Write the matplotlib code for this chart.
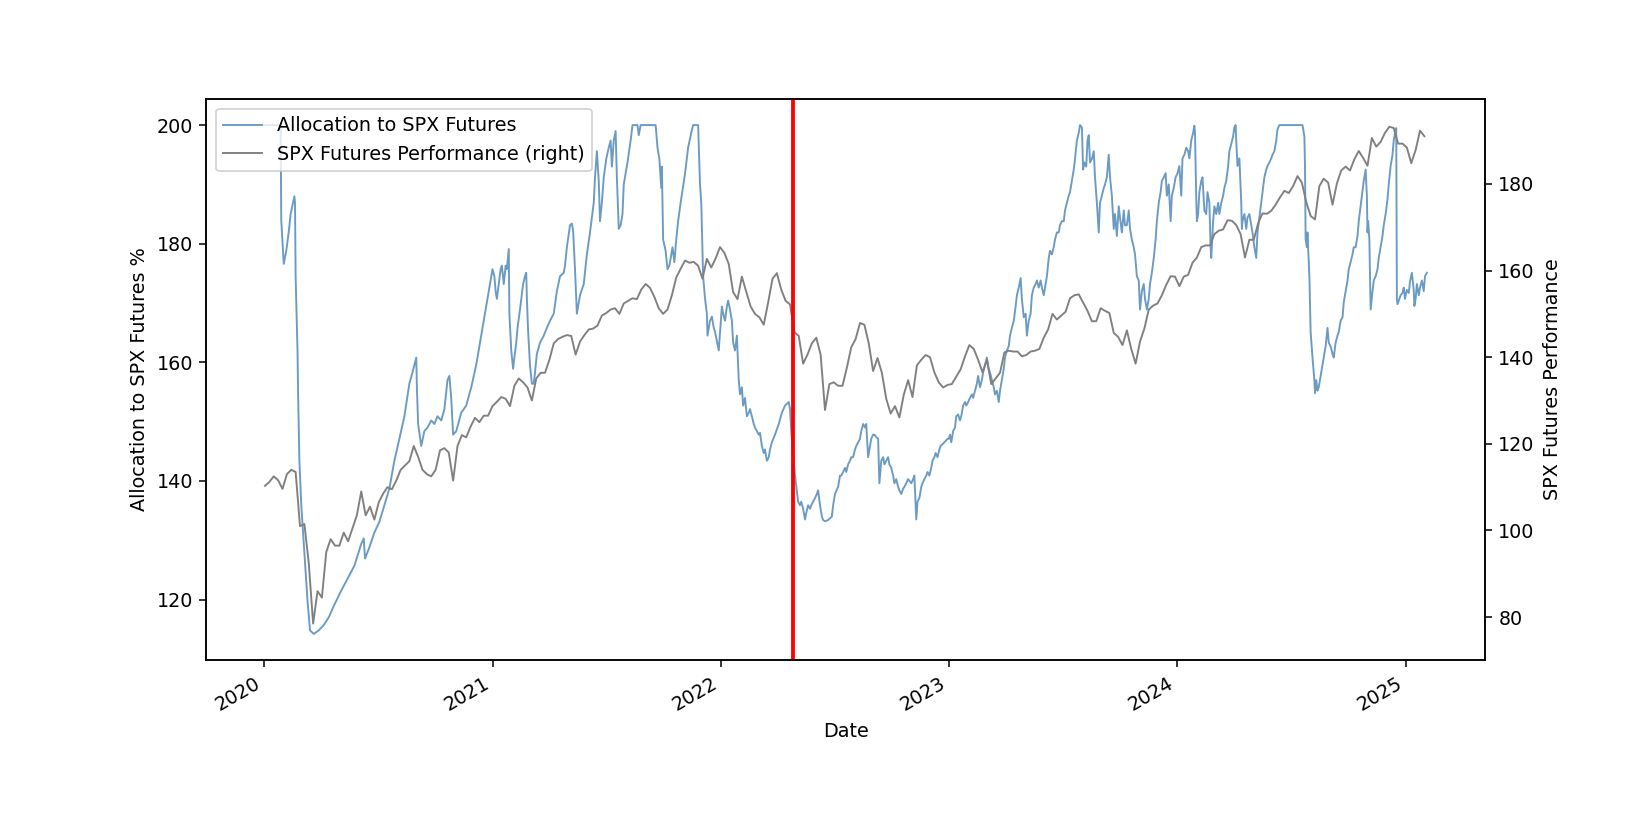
import matplotlib
matplotlib.use("Agg")
import matplotlib.pyplot as plt
import pandas as pd

# Allocation to SPX futures (%), (date, value)
alloc_2020 = [
    ("2020-01-02", 200.0), ("2020-01-28", 200.0), ("2020-01-29", 184.0), ("2020-02-02", 176.6),
    ("2020-02-06", 178.8), ("2020-02-10", 182.0), ("2020-02-13", 185.0), ("2020-02-19", 188.0),
    ("2020-02-20", 186.9), ("2020-02-21", 174.5), ("2020-02-24", 162.0), ("2020-02-25", 154.6),
    ("2020-02-27", 143.4), ("2020-03-01", 136.0), ("2020-03-06", 127.9), ("2020-03-11", 119.8),
    ("2020-03-15", 114.8), ("2020-03-21", 114.2), ("2020-03-29", 114.8), ("2020-04-06", 115.7),
    ("2020-04-14", 117.0), ("2020-04-22", 118.9), ("2020-05-03", 121.3), ("2020-05-14", 123.5),
    ("2020-05-25", 125.7), ("2020-06-05", 129.4), ("2020-06-09", 130.3), ("2020-06-11", 126.9),
    ("2020-06-18", 128.8), ("2020-06-26", 131.3), ("2020-07-04", 133.1), ("2020-07-12", 135.9),
    ("2020-07-20", 138.7), ("2020-07-28", 143.4), ("2020-08-05", 147.1), ("2020-08-13", 150.9),
    ("2020-08-21", 156.4), ("2020-08-26", 158.3), ("2020-09-01", 160.8), ("2020-09-02", 155.8),
    ("2020-09-04", 149.6), ("2020-09-09", 145.9), ("2020-09-14", 148.4), ("2020-09-19", 149.0),
    ("2020-09-25", 150.2), ("2020-09-30", 149.6), ("2020-10-05", 150.9), ("2020-10-11", 150.2),
    ("2020-10-16", 152.1), ("2020-10-21", 157.0), ("2020-10-24", 157.7), ("2020-10-27", 153.9),
    ("2020-10-30", 147.8), ("2020-11-04", 148.4), ("2020-11-12", 151.5), ("2020-11-20", 152.7),
    ("2020-11-28", 155.8), ("2020-12-06", 159.6), ("2020-12-13", 163.9), ("2020-12-21", 168.9),
    ("2020-12-27", 172.6),
]
alloc_2021 = [
    ("2021-01-01", 175.7), ("2021-01-04", 174.5), ("2021-01-06", 172.0), ("2021-01-08", 170.7),
    ("2021-01-11", 173.2), ("2021-01-14", 175.7), ("2021-01-16", 176.3), ("2021-01-19", 173.2),
    ("2021-01-22", 176.3), ("2021-01-24", 175.7), ("2021-01-27", 179.1), ("2021-01-28", 168.2),
    ("2021-01-31", 162.0), ("2021-02-03", 158.9), ("2021-02-05", 160.8), ("2021-02-08", 163.3),
    ("2021-02-10", 165.8), ("2021-02-14", 168.9), ("2021-02-19", 173.2), ("2021-02-22", 174.5),
    ("2021-02-24", 175.1), ("2021-02-25", 170.8), ("2021-02-27", 165.2), ("2021-03-02", 159.5),
    ("2021-03-05", 156.4), ("2021-03-08", 156.4), ("2021-03-10", 158.3), ("2021-03-13", 161.4),
    ("2021-03-18", 163.3), ("2021-03-24", 164.5), ("2021-03-29", 165.8), ("2021-04-03", 167.0),
    ("2021-04-09", 168.2), ("2021-04-14", 172.0), ("2021-04-19", 174.5), ("2021-04-25", 175.1),
    ("2021-04-27", 176.3), ("2021-04-30", 179.4), ("2021-05-05", 183.1), ("2021-05-08", 183.4),
    ("2021-05-10", 182.2), ("2021-05-13", 175.7), ("2021-05-16", 168.2), ("2021-05-18", 169.4),
    ("2021-05-21", 171.3), ("2021-05-27", 173.2), ("2021-06-01", 178.2), ("2021-06-06", 181.9),
    ("2021-06-12", 186.9), ("2021-06-14", 191.2), ("2021-06-17", 195.6), ("2021-06-20", 190.6),
    ("2021-06-22", 183.8), ("2021-06-25", 186.9), ("2021-06-28", 191.2), ("2021-07-02", 194.3),
    ("2021-07-06", 196.2), ("2021-07-09", 197.4), ("2021-07-11", 193.0), ("2021-07-14", 197.4),
    ("2021-07-17", 199.0), ("2021-07-19", 191.2), ("2021-07-22", 182.5), ("2021-07-25", 183.1),
    ("2021-07-28", 185.0), ("2021-07-30", 190.0), ("2021-08-05", 193.7), ("2021-08-10", 197.4),
    ("2021-08-13", 200.0), ("2021-08-21", 200.0), ("2021-08-23", 198.3), ("2021-08-26", 200.0),
    ("2021-09-19", 200.0), ("2021-09-22", 196.2), ("2021-09-25", 194.3), ("2021-09-28", 189.4),
    ("2021-09-29", 193.0), ("2021-10-01", 180.7), ("2021-10-05", 178.8), ("2021-10-08", 175.7),
    ("2021-10-11", 176.3), ("2021-10-14", 178.2), ("2021-10-16", 179.4), ("2021-10-19", 176.9),
    ("2021-10-22", 180.7), ("2021-10-25", 183.8), ("2021-10-29", 186.9), ("2021-11-05", 191.8),
    ("2021-11-10", 196.2), ("2021-11-15", 198.7), ("2021-11-18", 200.0), ("2021-11-26", 200.0),
    ("2021-11-29", 190.0), ("2021-12-01", 186.9), ("2021-12-04", 174.5), ("2021-12-07", 170.8),
    ("2021-12-10", 168.2), ("2021-12-11", 164.5), ("2021-12-15", 167.0), ("2021-12-18", 167.7),
    ("2021-12-21", 165.8), ("2021-12-23", 165.2), ("2021-12-29", 162.0),
]
alloc_2022 = [
    ("2022-01-01", 166.5), ("2022-01-03", 169.4), ("2022-01-05", 168.2), ("2022-01-08", 167.0),
    ("2022-01-11", 169.4), ("2022-01-13", 170.4), ("2022-01-16", 168.9), ("2022-01-19", 167.0),
    ("2022-01-21", 163.3), ("2022-01-24", 162.0), ("2022-01-27", 164.5), ("2022-01-28", 162.0),
    ("2022-01-30", 157.0), ("2022-02-01", 154.6), ("2022-02-04", 155.8), ("2022-02-06", 152.7),
    ("2022-02-09", 154.0), ("2022-02-12", 150.9), ("2022-02-15", 151.5), ("2022-02-17", 152.1),
    ("2022-02-20", 150.9), ("2022-02-23", 149.6), ("2022-02-25", 149.0), ("2022-02-28", 148.4),
    ("2022-03-03", 147.8), ("2022-03-05", 148.1), ("2022-03-08", 145.9), ("2022-03-11", 144.7),
    ("2022-03-13", 145.3), ("2022-03-16", 143.4), ("2022-03-19", 144.0), ("2022-03-21", 145.3),
    ("2022-03-24", 146.5), ("2022-03-29", 147.8), ("2022-04-04", 149.6), ("2022-04-09", 151.5),
    ("2022-04-14", 152.7), ("2022-04-20", 153.3), ("2022-04-22", 152.1), ("2022-04-24", 148.4),
    ("2022-04-26", 145.5), ("2022-04-30", 140.9), ("2022-05-02", 139.1), ("2022-05-05", 136.5),
    ("2022-05-08", 135.9), ("2022-05-10", 136.5), ("2022-05-13", 135.3), ("2022-05-16", 133.5),
    ("2022-05-18", 134.6), ("2022-05-21", 135.9), ("2022-05-24", 135.3), ("2022-05-26", 135.9),
    ("2022-05-29", 136.5), ("2022-06-01", 137.1), ("2022-06-04", 137.8), ("2022-06-06", 138.4),
    ("2022-06-09", 135.9), ("2022-06-12", 134.0), ("2022-06-14", 133.4), ("2022-06-17", 133.2),
    ("2022-06-22", 133.4), ("2022-06-28", 134.0), ("2022-06-30", 135.9), ("2022-07-03", 137.8),
    ("2022-07-08", 139.0), ("2022-07-11", 140.9), ("2022-07-13", 140.9), ("2022-07-16", 141.5),
    ("2022-07-19", 142.2), ("2022-07-21", 141.5), ("2022-07-24", 142.8), ("2022-07-27", 143.4),
    ("2022-07-29", 144.0), ("2022-08-01", 144.0), ("2022-08-04", 145.3), ("2022-08-06", 145.9),
    ("2022-08-09", 146.5), ("2022-08-12", 147.1), ("2022-08-14", 148.4), ("2022-08-17", 149.6),
    ("2022-08-20", 149.0), ("2022-08-22", 149.6), ("2022-08-25", 144.0), ("2022-08-28", 145.9),
    ("2022-08-30", 147.1), ("2022-09-02", 147.8), ("2022-09-04", 147.8), ("2022-09-07", 147.4),
    ("2022-09-10", 147.1), ("2022-09-12", 139.6), ("2022-09-15", 143.4), ("2022-09-18", 144.0),
    ("2022-09-20", 142.8), ("2022-09-23", 143.4), ("2022-09-26", 144.0), ("2022-09-28", 142.8),
    ("2022-10-01", 142.2), ("2022-10-04", 140.9), ("2022-10-06", 139.6), ("2022-10-09", 140.3),
    ("2022-10-12", 139.0), ("2022-10-14", 138.4), ("2022-10-17", 137.8), ("2022-10-20", 138.7),
    ("2022-10-22", 139.0), ("2022-10-25", 139.6), ("2022-10-28", 140.3), ("2022-11-02", 139.6),
    ("2022-11-05", 140.3), ("2022-11-07", 140.9), ("2022-11-10", 133.5), ("2022-11-12", 136.5),
    ("2022-11-15", 137.1), ("2022-11-18", 139.0), ("2022-11-20", 139.6), ("2022-11-23", 140.3),
    ("2022-11-26", 140.9), ("2022-11-28", 141.5), ("2022-12-01", 140.9), ("2022-12-04", 142.2),
    ("2022-12-06", 143.4), ("2022-12-09", 144.0), ("2022-12-11", 144.7), ("2022-12-14", 144.0),
    ("2022-12-17", 145.3), ("2022-12-19", 145.9), ("2022-12-25", 146.5), ("2022-12-30", 147.1),
]
alloc_2023 = [
    ("2023-01-01", 147.1), ("2023-01-03", 147.8), ("2023-01-05", 146.5), ("2023-01-08", 148.4),
    ("2023-01-11", 149.0), ("2023-01-13", 150.9), ("2023-01-16", 151.2), ("2023-01-19", 150.2),
    ("2023-01-21", 150.9), ("2023-01-24", 152.7), ("2023-01-27", 153.3), ("2023-01-29", 152.7),
    ("2023-02-01", 153.3), ("2023-02-04", 154.0), ("2023-02-07", 154.6), ("2023-02-09", 154.0),
    ("2023-02-12", 155.2), ("2023-02-15", 156.4), ("2023-02-17", 157.7), ("2023-02-20", 155.8),
    ("2023-02-23", 157.0), ("2023-02-25", 158.3), ("2023-02-28", 159.5), ("2023-03-03", 160.8),
    ("2023-03-06", 158.9), ("2023-03-08", 158.3), ("2023-03-11", 157.0), ("2023-03-14", 155.8),
    ("2023-03-16", 154.6), ("2023-03-19", 155.2), ("2023-03-22", 153.3), ("2023-03-24", 155.2),
    ("2023-03-27", 157.0), ("2023-03-30", 158.9), ("2023-04-01", 160.8), ("2023-04-04", 162.0),
    ("2023-04-07", 162.7), ("2023-04-09", 164.5), ("2023-04-12", 165.8), ("2023-04-15", 167.0),
    ("2023-04-18", 169.4), ("2023-04-20", 171.3), ("2023-04-23", 172.6), ("2023-04-26", 174.2),
    ("2023-04-28", 170.7), ("2023-05-01", 167.6), ("2023-05-04", 168.2), ("2023-05-06", 164.5),
    ("2023-05-09", 167.0), ("2023-05-12", 168.2), ("2023-05-14", 171.3), ("2023-05-17", 172.6),
    ("2023-05-20", 173.2), ("2023-05-22", 173.8), ("2023-05-25", 172.6), ("2023-05-28", 173.8),
    ("2023-05-30", 172.6), ("2023-06-02", 171.3), ("2023-06-04", 172.6), ("2023-06-07", 174.5),
    ("2023-06-10", 177.6), ("2023-06-12", 178.8), ("2023-06-15", 178.2), ("2023-06-18", 179.4),
    ("2023-06-20", 180.7), ("2023-06-23", 181.9), ("2023-06-26", 181.9), ("2023-06-28", 183.1),
    ("2023-07-01", 183.8), ("2023-07-04", 183.8), ("2023-07-06", 185.6), ("2023-07-09", 186.9),
    ("2023-07-12", 188.1), ("2023-07-14", 188.7), ("2023-07-17", 190.6), ("2023-07-20", 192.5),
    ("2023-07-22", 194.3), ("2023-07-25", 197.4), ("2023-07-28", 198.7), ("2023-07-30", 200.0),
    ("2023-08-02", 199.6), ("2023-08-04", 192.5), ("2023-08-06", 193.7), ("2023-08-09", 193.0),
    ("2023-08-11", 197.4), ("2023-08-13", 198.3), ("2023-08-15", 193.7), ("2023-08-18", 194.3),
    ("2023-08-21", 195.6), ("2023-08-23", 191.2), ("2023-08-26", 186.9), ("2023-08-29", 181.9),
    ("2023-08-31", 186.9), ("2023-09-03", 188.1), ("2023-09-06", 189.4), ("2023-09-08", 190.0),
    ("2023-09-11", 191.2), ("2023-09-14", 195.0), ("2023-09-16", 191.2), ("2023-09-19", 188.1),
    ("2023-09-22", 182.5), ("2023-09-24", 185.0), ("2023-09-27", 181.3), ("2023-09-30", 186.3),
    ("2023-10-02", 184.4), ("2023-10-05", 181.9), ("2023-10-08", 185.6), ("2023-10-10", 183.1),
    ("2023-10-13", 183.1), ("2023-10-16", 185.6), ("2023-10-18", 182.5), ("2023-10-21", 180.7),
    ("2023-10-24", 179.4), ("2023-10-26", 178.2), ("2023-10-29", 174.5), ("2023-11-01", 173.8),
    ("2023-11-03", 168.9), ("2023-11-06", 172.0), ("2023-11-09", 173.2), ("2023-11-11", 170.7),
    ("2023-11-14", 168.9), ("2023-11-17", 170.7), ("2023-11-19", 173.2), ("2023-11-22", 175.1),
    ("2023-11-25", 177.6), ("2023-11-28", 180.7), ("2023-11-30", 183.8), ("2023-12-03", 186.9),
    ("2023-12-06", 188.7), ("2023-12-08", 190.6), ("2023-12-11", 191.2), ("2023-12-14", 191.9),
    ("2023-12-16", 188.1), ("2023-12-19", 190.0), ("2023-12-22", 183.8), ("2023-12-24", 188.1),
    ("2023-12-27", 189.4), ("2023-12-30", 191.2),
]
alloc_2024 = [
    ("2024-01-02", 191.9), ("2024-01-05", 193.1), ("2024-01-08", 188.1), ("2024-01-10", 194.4),
    ("2024-01-13", 195.0), ("2024-01-16", 196.2), ("2024-01-19", 195.6), ("2024-01-21", 194.4),
    ("2024-01-24", 197.4), ("2024-01-27", 198.7), ("2024-01-29", 199.9), ("2024-01-30", 198.7),
    ("2024-02-01", 187.5), ("2024-02-02", 183.8), ("2024-02-04", 185.0), ("2024-02-06", 188.7),
    ("2024-02-09", 190.6), ("2024-02-11", 191.2), ("2024-02-14", 185.6), ("2024-02-17", 185.0),
    ("2024-02-19", 188.7), ("2024-02-22", 186.9), ("2024-02-24", 179.4), ("2024-02-25", 177.6),
    ("2024-02-28", 183.8), ("2024-03-01", 186.3), ("2024-03-04", 185.0), ("2024-03-07", 186.9),
    ("2024-03-09", 185.0), ("2024-03-12", 186.9), ("2024-03-15", 188.1), ("2024-03-17", 189.4),
    ("2024-03-20", 190.6), ("2024-03-23", 193.1), ("2024-03-25", 195.6), ("2024-03-28", 196.8),
    ("2024-03-31", 198.1), ("2024-04-02", 199.6), ("2024-04-04", 200.0), ("2024-04-05", 197.4),
    ("2024-04-07", 193.1), ("2024-04-10", 194.4), ("2024-04-13", 186.9), ("2024-04-14", 182.5),
    ("2024-04-15", 183.8), ("2024-04-18", 185.0), ("2024-04-21", 182.5), ("2024-04-23", 184.4),
    ("2024-04-26", 185.0), ("2024-04-29", 183.1), ("2024-05-01", 181.9), ("2024-05-04", 179.4),
    ("2024-05-07", 177.6), ("2024-05-09", 181.9), ("2024-05-12", 184.4), ("2024-05-15", 186.9),
    ("2024-05-17", 188.7), ("2024-05-20", 191.2), ("2024-05-23", 192.5), ("2024-05-25", 193.1),
    ("2024-05-28", 193.7), ("2024-05-31", 194.4), ("2024-06-02", 195.0), ("2024-06-05", 195.6),
    ("2024-06-08", 197.4), ("2024-06-10", 199.3), ("2024-06-13", 200.0), ("2024-07-20", 200.0),
    ("2024-07-23", 198.1), ("2024-07-24", 193.1), ("2024-07-25", 180.7), ("2024-07-27", 179.4),
    ("2024-07-28", 181.9), ("2024-07-29", 179.4), ("2024-07-31", 174.5), ("2024-08-02", 165.1),
    ("2024-08-05", 160.8), ("2024-08-08", 157.0), ("2024-08-09", 154.8), ("2024-08-11", 157.0),
    ("2024-08-13", 155.2), ("2024-08-15", 155.8), ("2024-08-18", 157.7), ("2024-08-21", 159.5),
    ("2024-08-23", 160.8), ("2024-08-26", 162.7), ("2024-08-29", 165.8), ("2024-08-31", 163.3),
    ("2024-09-03", 162.7), ("2024-09-06", 161.4), ("2024-09-08", 160.8), ("2024-09-11", 163.3),
    ("2024-09-14", 164.5), ("2024-09-16", 165.1), ("2024-09-19", 167.0), ("2024-09-22", 167.6),
    ("2024-09-24", 170.1), ("2024-09-27", 172.0), ("2024-09-30", 173.8), ("2024-10-02", 175.7),
    ("2024-10-05", 176.9), ("2024-10-08", 178.2), ("2024-10-10", 179.4), ("2024-10-13", 179.4),
    ("2024-10-16", 181.3), ("2024-10-18", 183.8), ("2024-10-21", 186.3), ("2024-10-24", 188.7),
    ("2024-10-26", 190.6), ("2024-10-29", 192.5), ("2024-10-31", 188.1), ("2024-11-01", 181.9),
    ("2024-11-02", 183.8), ("2024-11-04", 180.7), ("2024-11-06", 168.9), ("2024-11-09", 172.0),
    ("2024-11-11", 173.8), ("2024-11-14", 174.5), ("2024-11-17", 175.7), ("2024-11-19", 177.6),
    ("2024-11-22", 179.4), ("2024-11-25", 181.3), ("2024-11-27", 183.1), ("2024-11-30", 185.0),
    ("2024-12-03", 187.5), ("2024-12-05", 190.0), ("2024-12-08", 193.1), ("2024-12-11", 195.0),
    ("2024-12-13", 197.4), ("2024-12-16", 199.3), ("2024-12-17", 199.5), ("2024-12-18", 170.7),
    ("2024-12-19", 169.8), ("2024-12-22", 170.7), ("2024-12-24", 171.3), ("2024-12-27", 171.7),
    ("2024-12-29", 172.6), ("2024-12-31", 170.7),
]
alloc_2025 = [
    ("2025-01-03", 172.2), ("2025-01-06", 171.7), ("2025-01-08", 173.6), ("2025-01-11", 175.1),
    ("2025-01-14", 172.2), ("2025-01-15", 169.5), ("2025-01-17", 170.7), ("2025-01-19", 173.2),
    ("2025-01-22", 171.3), ("2025-01-24", 172.6), ("2025-01-27", 173.8), ("2025-01-30", 172.0),
    ("2025-02-01", 174.5), ("2025-02-04", 175.1),
]

# SPX futures performance (right axis), weekly Friday readings
perf_2020 = [110.3, 111.2, 112.5, 111.6, 109.6, 113.0, 114.0, 113.5, 101.0, 101.5,
             92.5, 78.5, 86.0, 84.5, 95.0, 98.0, 96.5, 96.5, 99.5, 97.5,
             100.5, 103.5, 109.0, 103.5, 105.5, 102.5, 106.5, 108.5, 110.0, 109.5,
             111.5, 114.0, 115.0, 116.0, 119.5, 117.0, 114.0, 113.0, 112.5, 114.0,
             118.5, 119.0, 118.0, 111.5, 119.5, 122.0, 121.5, 124.0, 126.0, 125.0,
             126.5, 126.5]
perf_2021 = [128.7, 129.7, 130.8, 130.4, 128.7, 133.4, 135.1, 134.2, 133.0, 130.0,
             135.1, 136.4, 136.4, 139.4, 143.2, 144.2, 144.7, 145.1, 144.9, 140.6,
             143.6, 145.1, 146.4, 146.6, 147.3, 149.6, 150.2, 151.0, 151.3, 150.0,
             152.4, 153.0, 153.6, 153.4, 155.6, 156.9, 156.0, 153.9, 151.3, 150.0,
             151.0, 154.3, 158.4, 160.4, 162.3, 161.8, 162.0, 161.1, 158.1, 162.7,
             160.7, 162.8, 165.4]
perf_2022 = [164.1, 161.5, 155.0, 153.4, 158.6, 155.1, 151.7, 150.0, 149.2, 147.5,
             152.6, 158.1, 159.4, 155.6, 153.0, 152.2, 145.8, 144.9, 138.5, 140.6,
             143.2, 144.5, 140.6, 127.8, 133.8, 134.2, 133.4, 133.4, 137.6, 142.3,
             144.2, 147.9, 147.5, 143.2, 136.8, 139.8, 136.4, 130.4, 127.0, 128.7,
             126.1, 131.3, 134.7, 130.8, 138.1, 139.4, 140.5, 140.0, 136.5, 134.2,
             133.0, 133.6]
perf_2023 = [133.8, 135.5, 137.2, 140.2, 142.8, 141.9, 139.4, 136.5, 139.4, 133.8,
             135.1, 136.4, 141.1, 141.5, 141.3, 141.3, 140.2, 140.5, 141.3, 141.5,
             141.9, 144.5, 146.4, 150.0, 148.7, 149.6, 150.5, 153.6, 154.3, 154.5,
             152.6, 150.7, 148.3, 148.3, 151.3, 150.7, 150.2, 145.6, 144.7, 142.8,
             146.2, 141.9, 138.5, 143.6, 146.6, 151.0, 151.9, 152.4, 154.3, 156.7,
             158.7, 158.6]
perf_2024 = [156.4, 158.6, 159.0, 161.8, 163.0, 165.4, 165.8, 165.8, 168.4, 169.2,
             169.5, 171.6, 171.5, 170.5, 168.4, 163.0, 167.1, 167.1, 170.9, 173.2,
             173.1, 173.8, 175.2, 176.9, 178.4, 177.9, 179.5, 181.8, 180.3, 175.8,
             172.6, 171.8, 179.5, 181.2, 180.3, 175.2, 180.1, 183.1, 184.0, 183.1,
             185.7, 187.6, 186.0, 184.2, 190.6, 188.6, 189.7, 191.8, 193.2, 192.9,
             189.3, 189.3]
perf_2025 = [188.4, 184.8, 187.8, 192.3, 191.0]

rebalance_date = "2022-04-26"

# build series
alloc = alloc_2020 + alloc_2021 + alloc_2022 + alloc_2023 + alloc_2024 + alloc_2025
alloc_dates = pd.to_datetime([d for d, v in alloc])
alloc_vals = [v for d, v in alloc]

perf_dates = pd.date_range("2020-01-01", "2025-01-31", freq="W-FRI")
perf_vals = perf_2020 + perf_2021 + perf_2022 + perf_2023 + perf_2024 + perf_2025

fig, ax = plt.subplots(figsize=(12, 6), dpi=137.5)
ax.plot(alloc_dates, alloc_vals, color="steelblue", alpha=0.8, lw=1,
        label="Allocation to SPX Futures")
ax.set_ylabel("Allocation to SPX Futures %")
ax.set_xlabel("Date")
ax.set_ylim(109.8, 204.4)

ax2 = ax.twinx()
ax2.plot(perf_dates, perf_vals, color="gray", lw=1,
         label="SPX Futures Performance (right)")
ax2.set_ylabel("SPX Futures Performance")
ax2.set_ylim(70.1, 199.6)
ax2.axvline(pd.Timestamp(rebalance_date), color="red", lw=2)

ax.set_xlim(pd.Timestamp("2019-10-01"), pd.Timestamp("2025-05-08"))

h1, l1 = ax.get_legend_handles_labels()
h2, l2 = ax2.get_legend_handles_labels()
ax2.legend(h1 + h2, l1 + l2, loc="upper left")

fig.autofmt_xdate()
fig.savefig("out.png", dpi=137.5)
